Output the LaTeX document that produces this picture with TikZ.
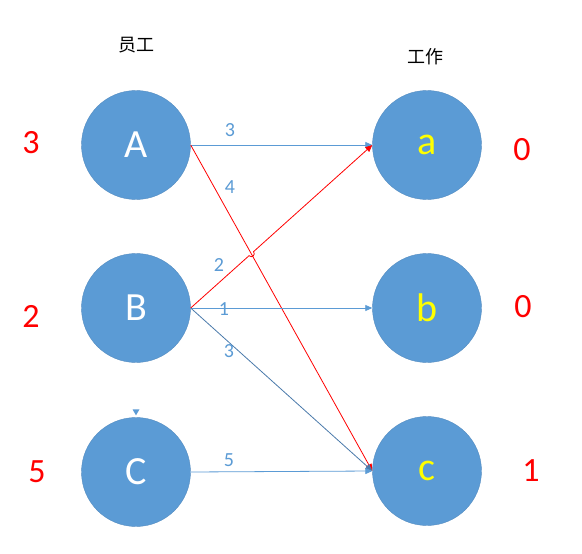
\documentclass[tikz,border=0pt]{standalone}
\usepackage{fontspec}
\setmainfont{Carlito}
\newfontfamily\cjk{Noto Sans CJK SC}
\usetikzlibrary{arrows.meta,calc}
\definecolor{nodeblue}{HTML}{5B9BD5}
\definecolor{edgeblue}{HTML}{5B9BD5}
\definecolor{edgedark}{HTML}{4A7AAB}
\definecolor{redc}{HTML}{FF0000}
\definecolor{yel}{HTML}{FFFF00}
\tikzset{
  vert/.style={circle, fill=nodeblue, draw=nodeblue!90!black, line width=0.4pt, minimum size=109pt, inner sep=0pt, font=\fontsize{40}{40}\selectfont},
  worker/.style={vert, text=white},
  job/.style={vert, text=yel},
  arr/.style={line width=0.8pt, -{Triangle[length=7pt,width=6pt]}},
  blueedge/.style={arr, draw=edgeblue},
  redge/.style={arr, draw=redc},
  wlab/.style={text=edgeblue, font=\fontsize{20}{20}\selectfont, inner sep=0pt},
  rlab/.style={text=redc, font=\fontsize{34}{34}\selectfont, inner sep=0pt},
  title/.style={font=\cjk\fontsize{18}{18}\selectfont, inner sep=0pt}
}
\begin{document}
\begin{tikzpicture}[x=1pt,y=-1pt]
\useasboundingbox (0,0) rectangle (582,554);
\fill[white] (0,0) rectangle (582,554);

\node[title] (t1) at (136,45) {员工};
\node[title] (t2) at (425,57) {工作};

\node[worker] (A) at (136,145) {A};
\node[worker] (B) at (136,308) {B};
\node[worker] (C) at (136,472) {C};
\node[job] (a) at (427,145) {a};
\node[job] (b) at (427,308) {b};
\node[job] (c) at (427,471) {c};

% small marker on top of C
\fill[nodeblue] ($(C.north)+(-3.5,-8)$) -- ($(C.north)+(3.5,-8)$) -- ($(C.north)+(0,-2)$) -- cycle;

% edges
\draw[blueedge] (A.east) -- (a.west);
\draw[redge] (A.east) -- (c.west);
\coordinate (X) at (intersection of A.east--c.west and B.east--a.west);
\coordinate (h1) at ($(X)!3pt!(B.east)$);
\coordinate (h2) at ($(X)!3pt!(a.west)$);
\draw[redge] (B.east) -- (h1) .. controls ($(h1)!4pt!-90:(X)$) and ($(h2)!4pt!90:(X)$) .. (h2) -- (a.west);
\draw[blueedge] (B.east) -- (b.west);
\draw[arr, draw=edgedark] (B.east) -- (c.west);
\draw[blueedge] (C.east) -- (c.west);

% weights
\node[wlab] (w1) at (230,130) {3};
\node[wlab] (w2) at (230,187) {4};
\node[wlab] (w3) at (219,265) {2};
\node[wlab] (w4) at (224,309) {1};
\node[wlab] (w5) at (229,351) {3};
\node[wlab] (w6) at (229,460) {5};

% labels
\node[rlab] (lA) at (31,143) {3};
\node[rlab] (lB) at (31,316) {2};
\node[rlab] (lC) at (37,472) {5};
\node[rlab] (la) at (522,150) {0};
\node[rlab] (lb) at (523,307) {0};
\node[rlab] (lc) at (531,471) {1};
\end{tikzpicture}
\end{document}
